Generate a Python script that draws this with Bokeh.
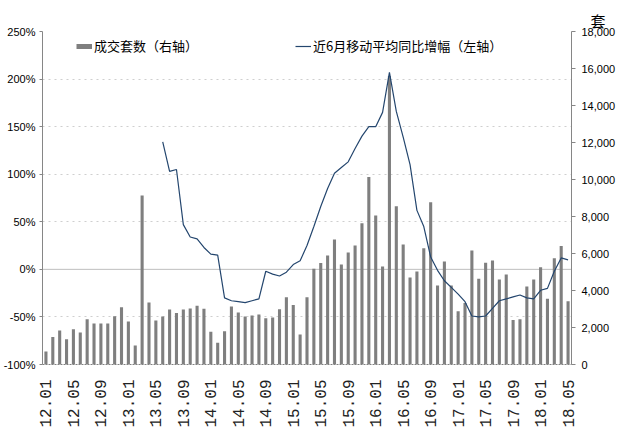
import math
import numpy as np
from bokeh.plotting import figure
from bokeh.models import (ColumnDataSource, Range1d, LinearAxis, FixedTicker,
                          PrintfTickFormatter, NumeralTickFormatter, Legend,
                          LegendItem, Span, Title)
from bokeh.embed import file_html
from bokeh.resources import INLINE

# ---------------- data ----------------
months = [f"{y:02d}.{m:02d}" for y in range(12, 19) for m in range(1, 13)][:77]

tick_labels = ["12.01", "12.05", "12.09", "13.01", "13.05", "13.09", "14.01",
               "14.05", "14.09", "15.01", "15.05", "15.09", "16.01", "16.05",
               "16.09", "17.01", "17.05", "17.09", "18.01", "18.05"]

# monthly transactions (units, right axis)
volumes = [700, 1480, 1840, 1370, 1910, 1730, 2450, 2220, 2220, 2220, 2610, 3100,
           2320, 1030, 9140, 3350, 2380, 2590, 2970, 2790, 2970, 3030, 3170, 3010,
           1770, 1170, 1800, 3140, 2810, 2590, 2650, 2700, 2500, 2540, 2990, 3640,
           3210, 1620, 3640, 5170, 5480, 5890, 6760, 5410, 6050, 6430, 7640, 10130,
           8050, 5300, 15600, 8560, 6490, 4700, 5030, 6290, 8770, 4270, 5570, 4270,
           2880, 3320, 6160, 4630, 5500, 5620, 4590, 4860, 2410, 2450, 4220, 4590,
           5260, 3550, 5750, 6400, 3420]

# 6-month moving average YoY growth (%, left axis)
yoy = [None] * 17 + [
    134, 103, 105, 47, 34, 32, 23, 16, 15,
    -30, -33, -34, -35, -33, -31,
    -2, -5, -7, -3,
    5, 9, 25, 45, 66, 85, 101, 107, 113, 127, 140, 150, 150, 165, 207,
    166, 139, 110, 62, 45, 13, -1, -12, -19, -26, -34, -49, -50, -49,
    -41, -33, -31, -29, -27, -30, -31, -22, -20, -2, 12, 10]

src = ColumnDataSource(dict(x=list(range(len(months))), month=months,
                            vol=volumes, yoy=np.array(yoy, dtype=float)))

# ---------------- figure ----------------
p = figure(width=620, height=434, output_backend="svg", toolbar_location=None,
           x_range=Range1d(-0.5, len(months) - 0.5), y_range=Range1d(-100, 250),
           min_border_left=42, min_border_right=49, min_border_top=31,
           min_border_bottom=70)
p.extra_y_ranges = {"vol": Range1d(0, 18000)}
p.outline_line_color = None
p.background_fill_color = "white"
p.border_fill_color = "white"

left_ticks = [-100, -50, 0, 50, 100, 150, 200, 250]
grey_axis = "#868686"

# left axis
ya = p.yaxis[0]
ya.ticker = FixedTicker(ticks=left_ticks)
ya.formatter = PrintfTickFormatter(format="%d%%")
ya.major_label_text_font = "Liberation Sans"
ya.major_label_text_font_size = "11px"
ya.major_label_text_color = "#000000"
ya.axis_line_color = grey_axis
ya.major_tick_line_color = grey_axis
ya.major_tick_out = 3
ya.major_tick_in = 0
ya.minor_tick_line_color = None
ya.major_label_standoff = 4

# right axis
ra = LinearAxis(y_range_name="vol", ticker=FixedTicker(ticks=list(range(0, 18001, 2000))),
                formatter=NumeralTickFormatter(format="0,0"))
ra.major_label_text_font = "Liberation Sans"
ra.major_label_text_font_size = "11px"
ra.major_label_text_color = "#000000"
ra.axis_line_color = grey_axis
ra.major_tick_line_color = grey_axis
ra.major_tick_out = 4
ra.major_tick_in = 0
ra.minor_tick_line_color = None
ra.major_label_standoff = 6
p.add_layout(ra, "right")

# bottom axis
xa = p.xaxis[0]
xa.ticker = FixedTicker(ticks=list(range(0, len(months), 4)))
xa.major_label_overrides = {i: tick_labels[k] for k, i in enumerate(range(0, len(months), 4))}
xa.major_label_orientation = math.pi / 2
xa.major_label_text_font = "Liberation Mono"
xa.major_label_text_font_size = "16px"
xa.major_label_text_color = "#222222"
xa.axis_line_color = "#808080"
xa.axis_line_dash = "2 1"
xa.major_tick_line_color = None
xa.major_tick_out = 0
xa.minor_tick_line_color = None
xa.major_label_standoff = 15

# grid
p.xgrid.grid_line_color = None
p.ygrid.ticker = FixedTicker(ticks=[-50, 50, 100, 150, 200, 250])
p.ygrid.grid_line_color = "#CFCFCF"
p.ygrid.grid_line_dash = "dotted"
p.add_layout(Span(location=0, dimension="width", line_color="#BEBEBE",
                  line_width=1, level="underlay"))

# bars and line
bars = p.vbar(x="x", top="vol", bottom=0, width=0.45, y_range_name="vol",
              fill_color="#7F7F7F", line_color=None, source=src)
line = p.line(x="x", y="yoy", line_color="#24466E", line_width=1.2, source=src)

# legend swatch for bars (flat grey bar like the reference legend)
bar_swatch = p.line(x=[0], y=[float("nan")], line_color="#7F7F7F", line_width=5,
                    line_cap="butt")


def make_legend(label, rend, loc):
    lg = Legend(items=[LegendItem(label=label, renderers=[rend])], location=loc,
                orientation="horizontal")
    lg.border_line_color = None
    lg.background_fill_alpha = 0
    lg.padding = 0
    lg.margin = 0
    lg.spacing = 0
    lg.glyph_width = 16
    lg.glyph_height = 14
    lg.label_height = 14
    lg.label_standoff = 2
    lg.label_text_font = "Noto Sans CJK SC"
    lg.label_text_font_size = "13px"
    lg.label_text_color = "#000000"
    return lg


p.add_layout(make_legend("成交套数（右轴）", bar_swatch, (34, 309)))
p.add_layout(make_legend("近6月移动平均同比增幅（左轴）", line, (253, 309)))

# unit of the right axis
unit = Title(text="套", align="right", offset=-34, standoff=2,
             text_font="Noto Sans CJK SC", text_font_size="15px",
             text_font_style="normal", text_color="#000000")
p.add_layout(unit, "above")

open("out.html", "w").write(file_html(p, INLINE))
